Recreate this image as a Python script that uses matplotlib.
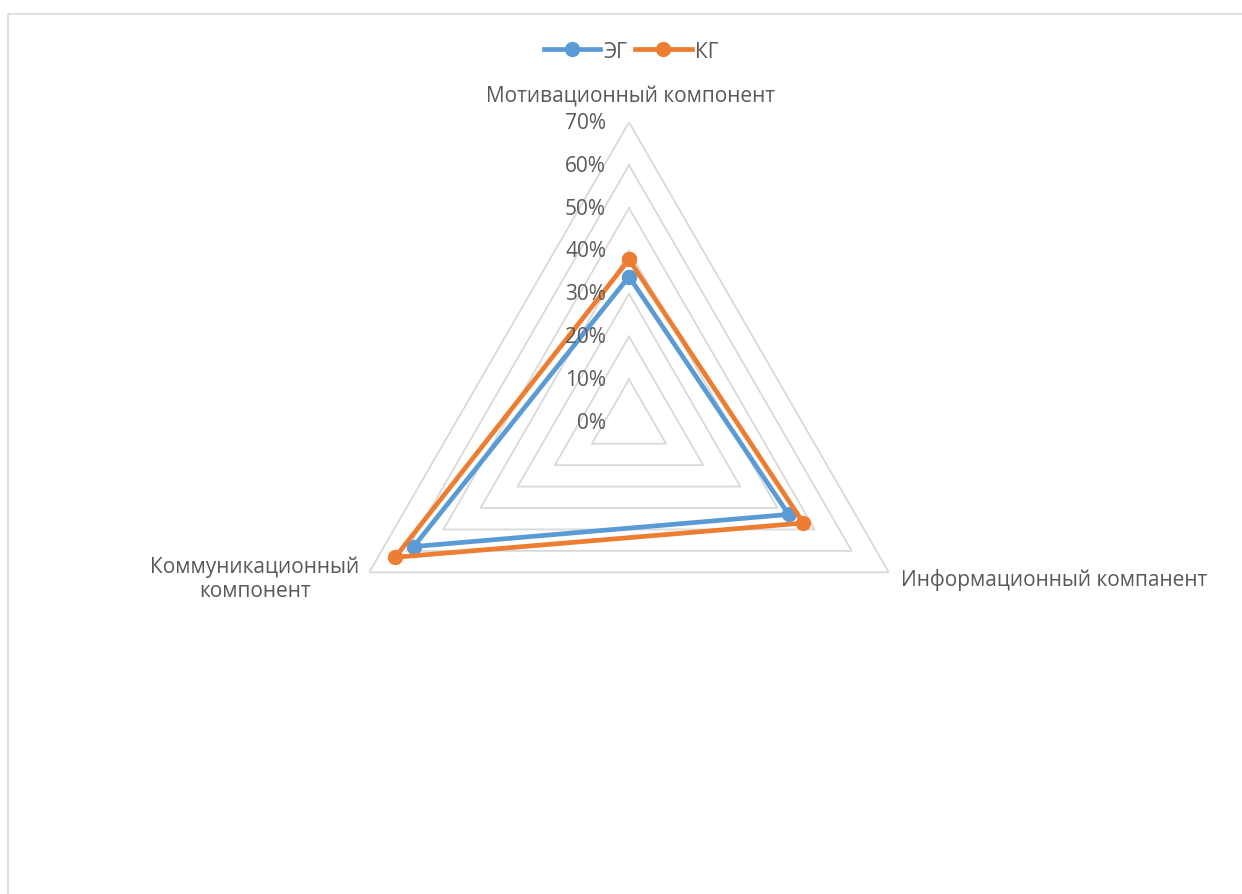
import numpy as np
import matplotlib.pyplot as plt
from matplotlib.patches import Rectangle

plt.rcParams['font.family'] = ['Open Sans', 'DejaVu Sans']

categories = ["Мотивационный компонент", "Информационный компанент",
              "Коммуникационный\nкомпонент"]
eg_values = [0.34, 0.43, 0.58]
kg_values = [0.38, 0.47, 0.63]
levels = [0.0, 0.1, 0.2, 0.3, 0.4, 0.5, 0.6, 0.7]
level_labels = ["0%", "10%", "20%", "30%", "40%", "50%", "60%", "70%"]

W, H = 1242, 895
fig = plt.figure(figsize=(W / 100, H / 100), dpi=100)

# chart area frame (only left/top edges are inside the canvas)
fig.patches.append(Rectangle((8 / W, -0.1), 1.2, 1.1 - 15 / H,
                             transform=fig.transFigure, fill=False,
                             edgecolor="#d9d9d9", linewidth=1.2))

cx, cy, rad = 629 / W, 1 - 423.3 / H, 300
ax = fig.add_axes([cx - rad / W, cy - rad / H, 2 * rad / W, 2 * rad / H],
                  projection="polar")
ax.set_theta_offset(np.pi / 2)
ax.set_theta_direction(-1)
ax.set_ylim(0, 0.7)
ax.grid(False)
ax.spines["polar"].set_visible(False)
ax.set_xticks([])
ax.set_yticks([])
ax.patch.set_alpha(0)

n = len(categories)
angles = np.arange(n) * 2 * np.pi / n
closed = np.append(angles, angles[0])

# triangular gridlines
for lv in levels[1:]:
    ax.plot(closed, [lv] * (n + 1), color="#d9d9d9", lw=1.3, zorder=1)

tc = "#595959"
fs = 15
for lv, lab in zip(levels, level_labels):
    ax.annotate(lab, xy=(0, lv), xytext=(-23, 0), textcoords="offset pixels",
                ha="right", va="center", fontsize=fs, color=tc, zorder=5)

series = [("ЭГ", eg_values, "#5b9bd5"), ("КГ", kg_values, "#ed7d31")]
for name, vals, col in series:
    ax.plot(closed, vals + [vals[0]], color=col, lw=3.4, marker="o",
            markersize=10, label=name, zorder=3, clip_on=False)

offsets = [((2, 27), "center"), ((12, -7), "left"), ((-10, -6), "right")]
for ang, lab, (off, ha) in zip(angles, categories, offsets):
    ax.annotate(lab, xy=(ang, 0.7), xytext=off, textcoords="offset pixels",
                ha=ha, va="center", multialignment="center",
                fontsize=fs, color=tc, annotation_clip=False)

leg = fig.legend(loc="center", bbox_to_anchor=(631 / W, 1 - 52 / H), ncol=2,
                 frameon=False, fontsize=fs, handlelength=2.7,
                 columnspacing=0.4, handletextpad=0.15)
for t in leg.get_texts():
    t.set_color(tc)

fig.savefig("out.png", dpi=100, facecolor="white")
